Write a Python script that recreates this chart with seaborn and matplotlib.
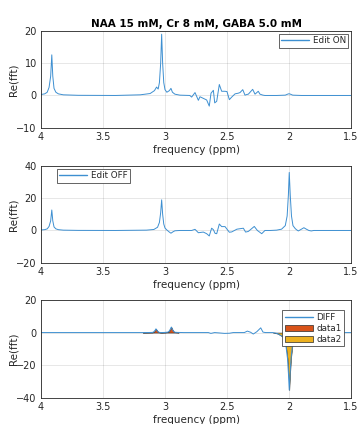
import numpy as np
import pandas as pd
import seaborn as sns
import matplotlib
matplotlib.use("Agg")
import matplotlib.pyplot as plt
from matplotlib.patches import Patch
from matplotlib.lines import Line2D

# ---- spectra (ppm, real part of FFT) ----
ppm_on = [4.00, 3.97, 3.95, 3.935, 3.922, 3.913, 3.905, 3.895, 3.88, 3.86, 3.82, 3.70,
          3.40, 3.20, 3.12, 3.085, 3.068, 3.055, 3.045, 3.035, 3.027, 3.019, 3.01, 3.00,
          2.985, 2.965, 2.952, 2.94, 2.92, 2.88, 2.80, 2.785, 2.758, 2.731, 2.718, 2.691,
          2.664, 2.643, 2.629, 2.61, 2.599, 2.583, 2.562, 2.543, 2.516, 2.50, 2.481, 2.462,
          2.435, 2.41, 2.395, 2.373, 2.355, 2.34, 2.328, 2.293, 2.274, 2.248, 2.234, 2.21,
          2.194, 2.10, 2.03, 2.005, 1.995, 1.97, 1.90, 1.50]
re_on = [0.3, 0.5, 1.0, 2.5, 6.0, 12.6, 6.0, 2.2, 1.0, 0.5, 0.2, 0.05,
         0.0, 0.2, 0.6, 1.5, 2.6, 2.0, 4.0, 10.0, 19.0, 10.0, 4.0, 1.8,
         1.0, 1.5, 2.2, 1.0, 0.4, 0.1, 0.0, -0.5, 0.9, -1.5, -0.4, -0.9,
         -1.4, -3.3, 0.7, 1.6, -2.3, -1.8, 3.4, 1.3, 1.3, 1.2, -1.3, -0.5,
         0.5, 0.7, 0.9, 1.8, 0.1, 0.3, 0.4, 1.9, 0.4, 1.3, 0.4, 0.1,
         0.0, 0.0, 0.1, 0.5, 0.5, 0.1, 0.0, 0.0]

ppm_off = [4.00, 3.97, 3.95, 3.935, 3.922, 3.913, 3.905, 3.895, 3.88, 3.86, 3.82, 3.70,
           3.40, 3.15, 3.09, 3.06, 3.045, 3.035, 3.027, 3.019, 3.01, 3.00, 2.985, 2.965,
           2.952, 2.935, 2.92, 2.88, 2.80, 2.785, 2.758, 2.731, 2.691, 2.664, 2.643, 2.624,
           2.61, 2.596, 2.583, 2.562, 2.543, 2.516, 2.481, 2.462, 2.42, 2.368, 2.35, 2.328,
           2.28, 2.255, 2.22, 2.194, 2.15, 2.10, 2.06, 2.03, 2.015, 2.005, 1.998, 1.99,
           1.98, 1.968, 1.95, 1.94, 1.925, 1.90, 1.88, 1.86, 1.84, 1.82, 1.80, 1.50]
re_off = [0.3, 0.5, 1.0, 2.5, 6.0, 12.7, 6.0, 2.2, 1.0, 0.5, 0.2, 0.05,
          0.0, 0.2, 0.6, 2.0, 5.0, 11.0, 19.0, 10.0, 4.0, 1.5, 0.3, -1.0,
          -1.7, -0.8, -0.2, 0.0, 0.0, 0.0, 0.7, -1.4, -1.0, -2.0, -3.4, 1.4,
          0.5, -1.8, -2.0, 4.0, 2.4, 2.4, -1.1, -0.9, 0.8, 1.4, -1.0, -0.6,
          2.5, 0.0, -2.0, 0.0, 0.0, 0.2, 0.8, 3.0, 9.0, 22.0, 36.0, 22.0,
          9.0, 3.0, 1.2, 0.5, -0.3, 0.8, 1.7, 0.8, 0.0, -0.3, 0.0, 0.0]

ppm_diff = [4.00, 3.15, 3.10, 3.09, 3.08, 3.073, 3.065, 3.055, 3.045, 3.03, 3.00, 2.975,
            2.965, 2.956, 2.949, 2.942, 2.932, 2.92, 2.90, 2.85, 2.65, 2.63, 2.60, 2.55,
            2.52, 2.48, 2.45, 2.36, 2.336, 2.31, 2.288, 2.26, 2.228, 2.21, 2.19, 2.13,
            2.09, 2.04, 2.025, 2.012, 2.004, 1.998, 1.992, 1.984, 1.97, 1.955, 1.94, 1.93,
            1.50]
re_diff = [0.0, 0.0, 0.1, 0.5, 1.4, 2.3, 1.4, 0.4, 0.1, 0.0, 0.1, 0.3,
           1.0, 2.2, 3.4, 2.2, 0.8, 0.2, 0.1, 0.0, 0.0, -0.5, 0.0, -0.3,
           -0.5, -0.4, 0.0, 0.0, 0.9, 0.2, -0.9, 0.5, 2.9, 0.3, 0.0, 0.0,
           -0.7, -3.0, -8.0, -16.0, -26.0, -35.3, -26.0, -16.0, -6.0, -2.0, -0.6, 0.0,
           0.0]

# shaded integration windows on the difference spectrum
ppm_area1 = [3.18, 3.10, 3.09, 3.08, 3.073, 3.065, 3.055, 3.045, 3.03, 3.00, 2.975,
             2.965, 2.956, 2.949, 2.942, 2.932, 2.92, 2.90, 2.89]
re_area1 = [0.0, 0.1, 0.5, 1.4, 2.3, 1.4, 0.4, 0.1, 0.0, 0.1, 0.3,
            1.0, 2.2, 3.4, 2.2, 0.8, 0.2, 0.1, 0.0]
ppm_area2 = [2.13, 2.09, 2.04, 2.025, 2.012, 2.004, 1.998, 1.992, 1.984, 1.97, 1.955]
re_area2 = [0.0, -0.7, -3.0, -8.0, -16.0, -26.0, -35.3, -26.0, -16.0, -6.0, -2.0]

title = "NAA 15 mM, Cr 8 mM, GABA 5.0 mM"
xticks = [4, 3.5, 3, 2.5, 2, 1.5]
xticklabels = ["4", "3.5", "3", "2.5", "2", "1.5"]

LINE = "#3d8fd1"
C1 = "#D95319"
C2 = "#EDB120"
EDGE = "#262626"
AREA_EDGE = "#2a2a2a"
TXT = "#262626"

sns.set_theme(style="white")
plt.rcParams["font.family"] = ["DejaVu Sans"]
plt.rcParams.update({
    "axes.edgecolor": EDGE,
    "axes.linewidth": 0.6,
    "xtick.color": TXT, "ytick.color": TXT,
    "xtick.direction": "in", "ytick.direction": "in",
    "xtick.major.size": 2.5, "ytick.major.size": 2.5,
    "xtick.major.width": 0.6, "ytick.major.width": 0.6,
    "xtick.labelsize": 7, "ytick.labelsize": 7,
    "axes.labelsize": 7.5, "axes.labelcolor": TXT,
})

fig = plt.figure(figsize=(3.6, 4.24), dpi=100)
W, H = 360, 424
def box(l, t, r, b):
    return [l / W, 1 - b / H, (r - l) / W, (b - t) / H]

ax1 = fig.add_axes(box(41, 31, 351, 127.7))
ax2 = fig.add_axes(box(41, 166, 351, 262.7))
ax3 = fig.add_axes(box(41, 300, 351, 397.7))

df_on = pd.DataFrame({"ppm": ppm_on, "re": re_on})
df_off = pd.DataFrame({"ppm": ppm_off, "re": re_off})
df_diff = pd.DataFrame({"ppm": ppm_diff, "re": re_diff})

sns.lineplot(data=df_on, x="ppm", y="re", ax=ax1, color=LINE, lw=0.7, sort=False,
             legend=False)
sns.lineplot(data=df_off, x="ppm", y="re", ax=ax2, color=LINE, lw=0.7, sort=False,
             legend=False)
sns.lineplot(data=df_diff, x="ppm", y="re", ax=ax3, color=LINE, lw=0.7, sort=False,
             legend=False)
ax3.fill_between(ppm_area1, re_area1, 0, facecolor=C1, edgecolor=AREA_EDGE, lw=0.4)
ax3.fill_between(ppm_area2, re_area2, 0, facecolor=C2, edgecolor=AREA_EDGE, lw=0.4)

ylims = [(-10, 20), (-20, 40), (-40, 20)]
yticks = [[-10, 0, 10, 20], [-20, 0, 20, 40], [-40, -20, 0, 20]]
for ax, yl, yt in zip([ax1, ax2, ax3], ylims, yticks):
    ax.set_xlim(4, 1.5)
    ax.set_ylim(*yl)
    ax.set_xticks(xticks)
    ax.set_xticklabels(xticklabels)
    ax.set_yticks(yt)
    ax.grid(True, color="#262626", alpha=0.13, lw=0.6)
    ax.set_axisbelow(True)
    ax.set_xlabel("frequency (ppm)", labelpad=2)
    ax.set_ylabel("Re(fft)")
    ax.yaxis.set_label_coords(-0.074, 0.5)
    ax.tick_params(top=False, right=False, pad=3)
    for s in ax.spines.values():
        s.set_visible(True)
        s.set_color(EDGE)
        s.set_linewidth(0.6)

ax1.set_title(title, fontsize=7.5, fontweight="bold", color="black", pad=3)

leg_kw = dict(fontsize=6.3, frameon=True, fancybox=False, framealpha=1,
              edgecolor=EDGE, handlelength=3.2, handletextpad=0.4,
              borderpad=0.28, borderaxespad=0.3, labelspacing=0.22)
line_h = Line2D([], [], color=LINE, lw=1.0)
l1 = ax1.legend([line_h], ["Edit ON"], loc="upper right", **leg_kw)
l2 = ax2.legend([line_h], ["Edit OFF"], loc="upper left",
                bbox_to_anchor=(0.042, 1.0), **leg_kw)
handles = [line_h,
           Patch(facecolor=C1, edgecolor=AREA_EDGE, lw=0.5),
           Patch(facecolor=C2, edgecolor=AREA_EDGE, lw=0.5)]
l3 = ax3.legend(handles, ["DIFF", "data1", "data2"], loc="upper right",
                bbox_to_anchor=(0.985, 0.92), **leg_kw)
for lg in (l1, l2, l3):
    lg.get_frame().set_linewidth(0.5)

fig.savefig("out.png", dpi=100)
